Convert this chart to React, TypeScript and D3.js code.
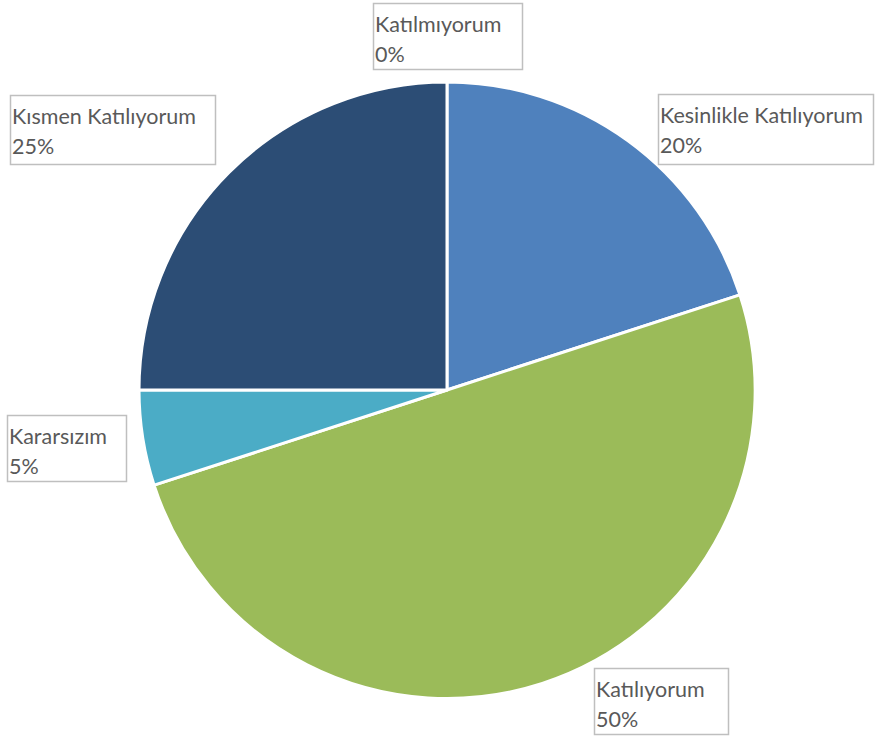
import React from "react";
import * as d3 from "d3";

const categories = ["Kesinlikle Katılıyorum", "Katılıyorum", "Kararsızım", "Kısmen Katılıyorum", "Katılmıyorum"];
const values = [20, 50, 5, 25, 0];
const labels = ["20%", "50%", "5%", "25%", "0%"];
const colors = ["#4F81BD", "#9BBB59", "#4BACC6", "#2C4D75", "#C0504D"];
// label boxes [x, y, w, h]
const boxes: [number, number, number, number][] = [
  [658, 94, 215, 70],
  [594, 668, 134, 66],
  [7, 415, 119, 66],
  [10, 95, 205, 69],
  [373, 3, 149, 66],
];

export default function App() {
  const W = 875, H = 741;
  const cx = 447, cy = 390, r = 308;
  const pie = d3.pie<number>().sort(null).value((d) => d);
  const arcs = pie(values);
  const arc = d3.arc<d3.PieArcDatum<number>>().innerRadius(0).outerRadius(r);
  const font = "Lato, 'Noto Sans', sans-serif";
  return (
    <svg width={W} height={H} style={{ position: "absolute", left: 0, top: 0, background: "#fff" }}>
      <g transform={`translate(${cx},${cy})`}>
        {arcs.map((a, i) =>
          a.value > 0 ? (
            <path key={i} d={arc(a) || ""} fill={colors[i]} stroke="#fff" strokeWidth={3} strokeLinejoin="round" />
          ) : null
        )}
      </g>
      {boxes.map((b, i) => (
        <g key={i}>
          <rect x={b[0] + 0.5} y={b[1] + 0.5} width={b[2]} height={b[3]} fill="#fff" stroke="#BFBFBF" strokeWidth={1.5} />
          <text x={b[0] + 2} y={b[1] + 29} fontFamily={font} fontSize={21.5} fill="#595959">
            {categories[i]}
          </text>
          <text x={b[0] + 2} y={b[1] + 59} fontFamily={font} fontSize={21.5} fill="#595959">
            {labels[i]}
          </text>
        </g>
      ))}
    </svg>
  );
}
